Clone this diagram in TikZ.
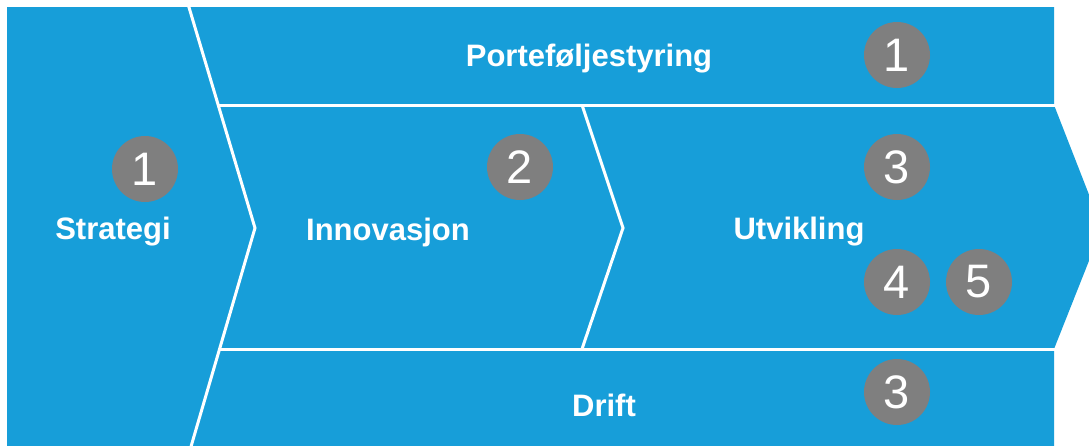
\documentclass[tikz,border=0pt]{standalone}
\usepackage{fontspec}
\setmainfont{Liberation Sans}
\definecolor{vblue}{HTML}{179ED9}
\definecolor{vgray}{HTML}{7F7F7F}
\begin{document}
\begin{tikzpicture}[x=1pt,y=-1pt,
  lbl/.style={text=white,font=\fontsize{31}{36}\selectfont\bfseries},
  num/.style={circle,fill=vgray,minimum size=66pt,inner sep=0pt,text=white,font=\fontsize{47}{50}\selectfont},
  sep/.style={draw=white,line width=3pt}]
\useasboundingbox (0,0) rectangle (1089,445);
\clip (0,0) rectangle (1089,445);
\fill[white] (0,0) rectangle (1089,445);
\fill[vblue] (7,7) -- (1054,7) -- (1054,105) -- (1102,228) -- (1054,349) -- (1054,450) -- (7,450) -- cycle;
% separators
\draw[sep] (188,4) -- (255,228) -- (190,450);
\draw[sep] (219,105) -- (1060,105);
\draw[sep] (219,349) -- (1060,349);
\draw[sep] (582,105) -- (623,228) -- (582,349);
% labels
\node[lbl] (strategi) at (113,232) {Strategi};
\node[lbl] (innov) at (388,232) {Innovasjon};
\node[lbl] (utv) at (799,232) {Utvikling};
\node[lbl] (port) at (589,59) {Porteføljestyring};
\node[lbl] (drift) at (604,405) {Drift};
% numbered circles
\node[num] (c1s) at (145,169) {1};
\node[num] (c2) at (520,167) {2};
\node[num] (c1p) at (897,55) {1};
\node[num] (c3u) at (897,167) {3};
\node[num] (c4) at (897,282) {4};
\node[num] (c5) at (979,282) {5};
\node[num] (c3d) at (897,392) {3};
\end{tikzpicture}
\end{document}
